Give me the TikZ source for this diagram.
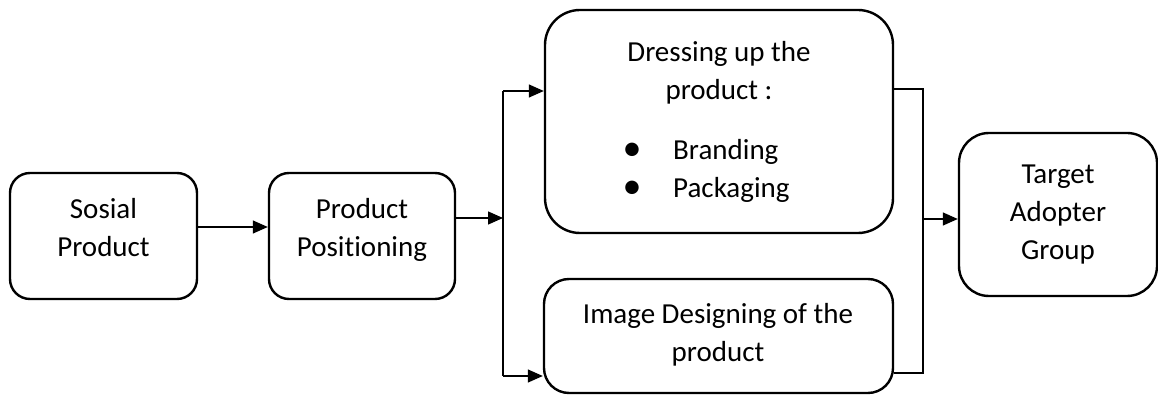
\documentclass[tikz,border=0pt]{standalone}
\usepackage{fontspec}
\setmainfont{Carlito}[Ligatures={NoCommon,NoRare}]
\usetikzlibrary{arrows.meta}
\begin{document}
\begin{tikzpicture}[x=1pt,y=-1pt,
  box/.style={draw=black,line width=2.4pt,fill=white,align=center,inner sep=0pt,
    font=\fontsize{29}{38}\selectfont},
  conn/.style={draw=black,line width=1.3pt},
  arr/.style={conn,-{Triangle[length=15pt,width=13pt]}},
  lbl/.style={inner sep=0pt,anchor=base,font=\fontsize{29}{38}\selectfont},
  bul/.style={inner sep=0pt,anchor=base,font=\fontsize{38}{38}\selectfont}]
\useasboundingbox (0,0) rectangle (1158,395);
% boxes
\node[box,rounded corners=20pt,minimum width=187pt,minimum height=126pt] (A) at (103.5,236) {};
\node[box,rounded corners=20pt,minimum width=186pt,minimum height=126pt] (B) at (362,236) {};
\node[box,rounded corners=35pt,minimum width=348pt,minimum height=223pt] (C) at (719,121.5) {};
\node[box,rounded corners=25pt,minimum width=349pt,minimum height=114pt] (D) at (718.5,336) {};
\node[box,rounded corners=30pt,minimum width=198pt,minimum height=163pt] (E) at (1058,214.5) {Target\\Adopter\\Group};
% texts
\node[lbl] (A1) at (103.5,219) {Sosial};
\node[lbl] (A2) at (103.5,257) {Product};
\node[lbl] (P1) at (362,219) {Product};
\node[lbl] (P2) at (362,257) {Positioning};
\node[lbl] (C1) at (719,62) {Dressing up the};
\node[lbl] (C2) at (719,100) {product :};
\node[lbl,anchor=base west] (C3) at (673,160) {Branding};
\node[lbl,anchor=base west] (C4) at (673,198) {Packaging};
\node[bul] (B1) at (632,161) {\textbullet};
\node[bul] (B2) at (632,199) {\textbullet};
\node[lbl] (D1) at (718,323) {Image Designing of the};
\node[lbl] (D2) at (718,361) {product};
% connector points
\coordinate (AO) at ([yshift=9pt]A.east);
\coordinate (BO) at ([yshift=18pt]B.east);
\coordinate (CO) at ([yshift=32.5pt]C.east);
\coordinate (DO) at ([yshift=-37pt]D.east);
\coordinate (L1) at (503,91);
\coordinate (L2) at (503,376);
\coordinate (LM) at (503,218);
\coordinate (R1) at (923,89);
\coordinate (R2) at (923,373);
\coordinate (RM) at (923,219);
% connectors
\draw[arr] (AO) -- (B.west |- AO);
\draw[arr] (BO) -- (LM);
\draw[conn] (L1) -- (L2);
\draw[arr] (L1) -- (C.west |- L1);
\draw[arr] (L2) -- (D.west |- L2);
\draw[conn] (CO) -- (R1) -- (R2) -- (DO);
\draw[arr] (RM) -- (E.west |- RM);
\end{tikzpicture}
\end{document}
